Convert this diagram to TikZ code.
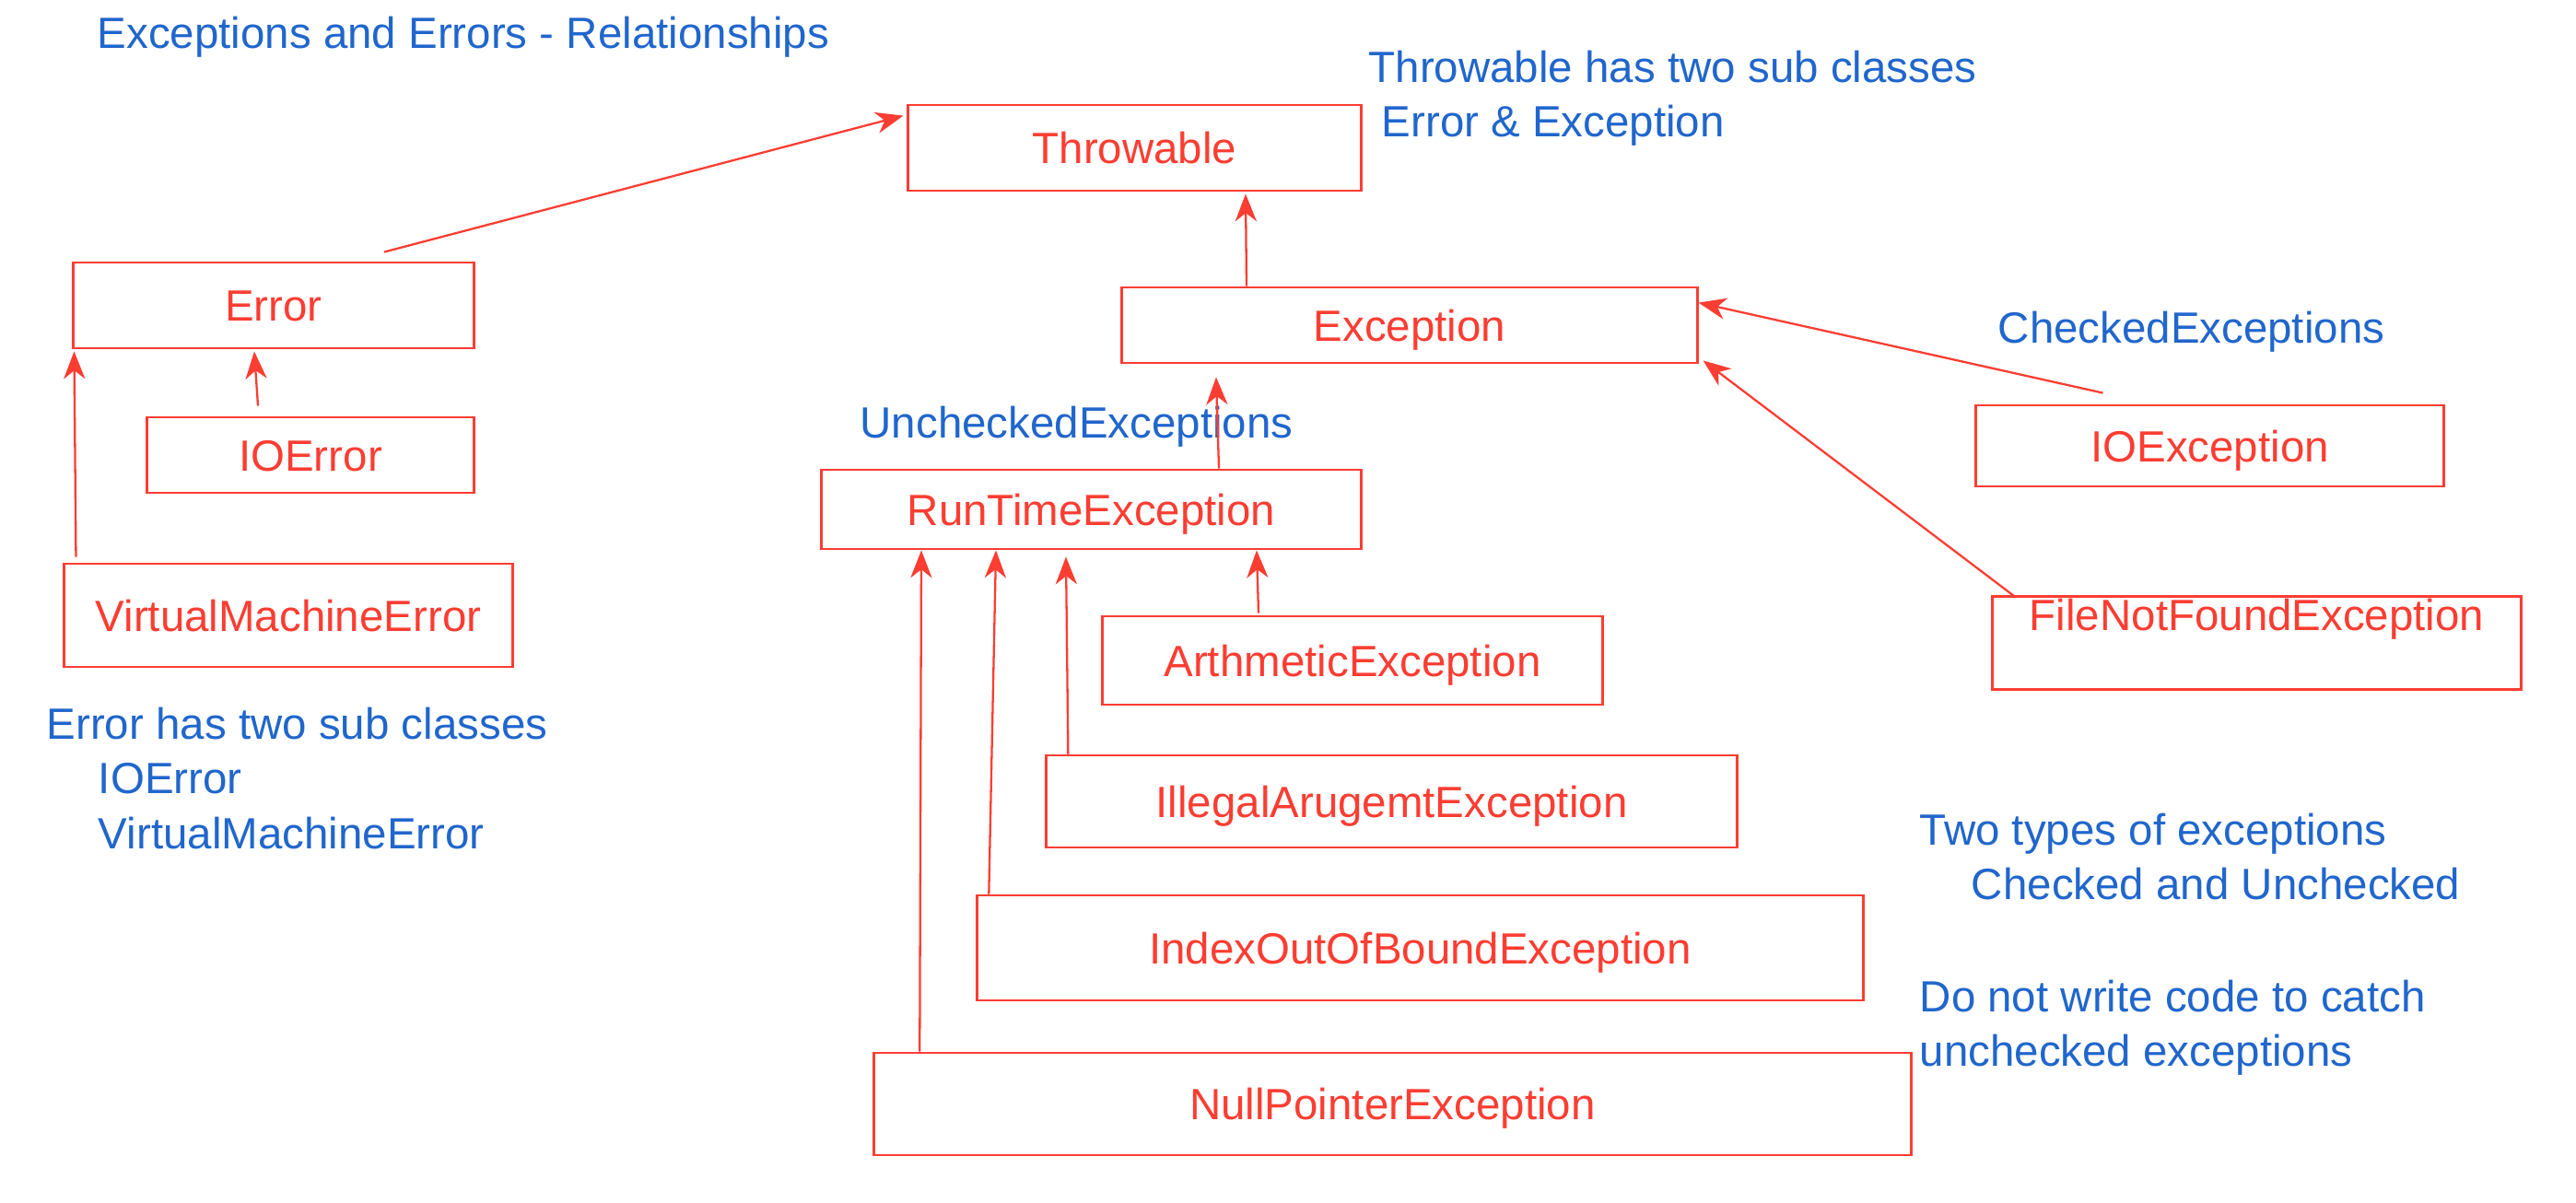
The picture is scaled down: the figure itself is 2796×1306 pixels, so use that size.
\documentclass[tikz,border=0pt]{standalone}
\usepackage{fontspec}
\setmainfont{Liberation Sans}
\usetikzlibrary{arrows.meta, calc}
\definecolor{excred}{RGB}{252, 61, 50}
\definecolor{noteblue}{RGB}{32, 102, 204}
\newcommand{\diagfont}{\fontsize{13.5}{17}\selectfont}

\begin{document}
\begin{tikzpicture}[
    x=0.01cm, y=-0.01cm,
    cls/.style={draw=excred, line width=0.8pt, text=excred, font=\diagfont,
                inner sep=0pt, text height=0.34cm, text depth=0pt},
    note/.style={text=noteblue, font=\diagfont, inner sep=0pt, align=left},
    arrow/.style={-{Stealth[length=8.5pt, width=6.6pt, inset=2.6pt]},
                  line width=0.65pt, excred}
]
    \useasboundingbox (0,0) rectangle (2796,1306);

    % class boxes
    \node[cls, minimum width=4.91cm, minimum height=0.93cm] (throwable) at (1231.5,160.5) {Throwable};
    \node[cls, minimum width=4.34cm, minimum height=0.93cm] (error) at (297,331.5) {Error};
    \node[cls, minimum width=3.54cm, minimum height=0.82cm] (ioerror) at (337,494) {IOError};
    \node[cls, minimum width=4.86cm, minimum height=1.12cm] (vmerror) at (313,668) {VirtualMachineError};
    \node[cls, minimum width=6.24cm, minimum height=0.82cm] (exception) at (1530,353) {Exception};
    \node[cls, minimum width=5.07cm, minimum height=0.88cm] (ioexception) at (2398.5,484) {IOException};
    \node[cls, minimum width=5.74cm, text height=0.37cm, text depth=0.64cm,
          anchor=north west] (filenotfound) at (2161,646) {FileNotFoundException};
    \node[cls, minimum width=5.85cm, minimum height=0.86cm] (runtime) at (1184.5,553) {RunTimeException};
    \node[cls, minimum width=5.42cm, minimum height=0.96cm] (arithmetic) at (1468,717) {ArthmeticException};
    \node[cls, minimum width=7.49cm, minimum height=1.00cm] (illegalarg) at (1510.5,870) {IllegalArugemtException};
    \node[cls, minimum width=9.61cm, minimum height=1.14cm] (indexbound) at (1541.5,1029) {IndexOutOfBoundException};
    \node[cls, minimum width=11.25cm, minimum height=1.11cm] (nullpointer) at (1511.5,1198.5) {NullPointerException};

    % notes
    \node[note, anchor=base west] (title) at (105,52) {Exceptions and Errors - Relationships};
    \node[note, anchor=north west] (throwablenote) at (1485,54)
        {Throwable has two sub classes\\\hspace*{4pt}Error \& Exception};
    \node[note, anchor=north west] (errornote) at (50,767)
        {Error has two sub classes\\\hspace*{16pt}IOError\\\hspace*{16pt}VirtualMachineError};
    \node[note, anchor=base west] (checked) at (2168,372) {CheckedExceptions};
    \node[note, anchor=base west] (unchecked) at (933,475) {UncheckedExceptions};
    \node[note, anchor=north west] (typesnote) at (2083,882)
        {Two types of exceptions\\\hspace*{16pt}Checked and Unchecked};
    \node[note, anchor=north west] (catchnote) at (2083,1063)
        {Do not write code to catch\\unchecked exceptions};

    % inheritance arrows
    \draw[arrow] ($(error.north)+(120,-10)$) -- ($(throwable.north west)+(-4,13)$);
    \draw[arrow] ($(ioerror.north)+(-57,-11)$) -- ($(error.south)+(-21,2)$);
    \draw[arrow] ($(vmerror.north west)+(14,-6)$) -- ($(error.south west)+(2,2)$);
    \draw[arrow] ($(exception.north)+(-177,0)$) -- ($(throwable.south)+(120.5,2)$);
    \draw[arrow] ($(ioexception.north west)+(139,-12)$) -- ($(exception.north east)+(0,18)$);
    \draw[arrow] ($(filenotfound.north west)+(25,1)$) -- ($(exception.south east)+(5,-4)$);
    \draw[arrow] ($(runtime.north)+(138.5,0)$) -- ($(exception.south)+(-210,14)$);
    \draw[arrow] ($(arithmetic.north)+(-102,-2)$) -- ($(runtime.south)+(179.5,0)$);
    \draw[arrow] ($(illegalarg.north west)+(25,0)$) -- ($(runtime.south)+(-27.5,7)$);
    \draw[arrow] ($(indexbound.north west)+(14,0)$) -- ($(runtime.south)+(-103.5,0)$);
    \draw[arrow] ($(nullpointer.north west)+(51,0)$) -- ($(runtime.south)+(-184.5,0)$);
\end{tikzpicture}
\end{document}
